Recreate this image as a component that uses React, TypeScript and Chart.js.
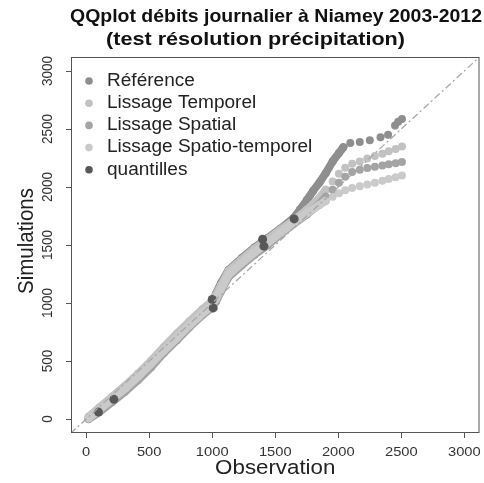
import React, { useEffect, useRef } from "react";
import { Chart, registerables } from "chart.js";

Chart.register(...registerables);

const TITLE_1 = "QQplot débits journalier à Niamey 2003-2012";
const TITLE_2 = "(test résolution précipitation)";
const X_TITLE = "Observation";
const Y_TITLE = "Simulations";
const X_TICKS = [0, 500, 1000, 1500, 2000, 2500, 3000];
const Y_TICKS = [0, 500, 1000, 1500, 2000, 2500, 3000];

const LEGEND_LABELS = ["Référence", "Lissage Temporel", "Lissage Spatial", "Lissage Spatio-temporel", "quantilles"];

// Reference simulation quantiles
const REF_X = [20, 105, 205, 310, 410, 515, 615, 720, 820, 925, 985, 1030, 1070, 1130, 1235, 1335, 1440, 1540, 1645, 1695, 1750, 1800, 1850, 1900, 1955, 2005, 2040, 2095, 2170, 2250, 2335, 2395, 2450, 2475, 2505];
const REF_Y = [5, 75, 160, 255, 355, 470, 595, 705, 812, 920, 975, 1080, 1173, 1285, 1387, 1478, 1560, 1640, 1732, 1803, 1885, 1966, 2037, 2119, 2220, 2292, 2342, 2378, 2388, 2403, 2429, 2449, 2530, 2561, 2586];

// Observation quantiles for smoothed runs
const LIS_X = [20, 105, 205, 310, 410, 515, 615, 720, 820, 925, 985, 1030, 1070, 1130, 1235, 1335, 1440, 1540, 1645, 1750, 1850, 1900, 1955, 2005, 2055, 2110, 2170, 2230, 2290, 2350, 2400, 2455, 2505];
const TEMP_Y = [19, 100, 191, 288, 390, 502, 619, 736, 842, 949, 1000, 1066, 1153, 1275, 1376, 1468, 1549, 1631, 1712, 1803, 1905, 1976, 2048, 2114, 2165, 2200, 2220, 2246, 2266, 2287, 2307, 2327, 2348];
const SPAT_Y = [0, 59, 146, 237, 334, 446, 568, 680, 792, 898, 949, 1010, 1102, 1224, 1325, 1417, 1498, 1590, 1681, 1763, 1854, 1915, 1976, 2037, 2088, 2129, 2149, 2164, 2175, 2185, 2195, 2205, 2215];
const ST_Y = [8, 80, 171, 263, 364, 476, 588, 700, 809, 914, 964, 1036, 1122, 1244, 1346, 1437, 1519, 1605, 1692, 1773, 1844, 1880, 1915, 1946, 1971, 1992, 2007, 2022, 2037, 2053, 2068, 2083, 2098];

// Quantile markers
const Q_X = [98, 220, 1000, 1008, 1400, 1410, 1650];
const Q_Y = [60, 170, 1030, 958, 1550, 1490, 1725];

const DIAG = [-300, 3300];

const COLORS = ["#8e8e8e", "#c2c2c2", "#a4a4a4", "#cacaca", "#585858"];
const FONT = '"Liberation Sans", Arial, Helvetica, sans-serif';
const SX = 1.088; // horizontal stretch of the original picture

function pts(xs: number[], ys: number[]) {
  return xs.map((x, i) => ({ x, y: ys[i] }));
}

function seriesDataset(label: string, xs: number[], ys: number[], color: string, tailStart: number, order: number) {
  return {
    label,
    data: pts(xs, ys),
    showLine: true,
    borderColor: color,
    backgroundColor: color,
    borderWidth: 8,
    borderCapStyle: "round",
    borderJoinStyle: "round",
    pointRadius: 4,
    pointBorderWidth: 0,
    pointBackgroundColor: color,
    order,
    segment: {
      borderColor: (ctx: any) => (ctx.p0.parsed.x >= tailStart ? "rgba(0,0,0,0)" : color),
    },
  };
}

function stretchText(ctx: CanvasRenderingContext2D, text: string, x: number, y: number, sx: number) {
  ctx.save();
  ctx.translate(x, y);
  ctx.scale(sx, 1);
  ctx.fillText(text, 0, 0);
  ctx.restore();
}

function fitText(ctx: CanvasRenderingContext2D, text: string, x0: number, x1: number, y: number) {
  const w = ctx.measureText(text).width;
  const sx = (x1 - x0) / w;
  ctx.save();
  ctx.translate((x0 + x1) / 2, y);
  ctx.scale(sx, 1);
  ctx.textAlign = "center";
  ctx.fillText(text, 0, 0);
  ctx.restore();
}

const decorPlugin = {
  id: "decor",
  afterDraw(chart: any) {
    const ctx: CanvasRenderingContext2D = chart.ctx;
    const { left, right, top, bottom } = chart.chartArea;
    const xs = chart.scales.x;
    const ys = chart.scales.y;
    ctx.save();
    // box
    ctx.strokeStyle = "#555";
    ctx.lineWidth = 1;
    ctx.strokeRect(left + 0.5, top + 0.5, right - left - 1, bottom - top - 1);
    // ticks
    ctx.beginPath();
    X_TICKS.forEach((v) => {
      const px = Math.round(xs.getPixelForValue(v)) + 0.5;
      ctx.moveTo(px, bottom);
      ctx.lineTo(px, bottom + 5);
    });
    Y_TICKS.forEach((v) => {
      const py = Math.round(ys.getPixelForValue(v)) + 0.5;
      ctx.moveTo(left, py);
      ctx.lineTo(left - 5, py);
    });
    ctx.stroke();
    // tick labels
    ctx.fillStyle = "#333";
    ctx.font = `13.5px ${FONT}`;
    ctx.textAlign = "center";
    ctx.textBaseline = "middle";
    X_TICKS.forEach((v) => {
      stretchText(ctx, String(v), xs.getPixelForValue(v), 452, SX);
    });
    Y_TICKS.forEach((v) => {
      ctx.save();
      ctx.translate(48, ys.getPixelForValue(v));
      ctx.rotate(-Math.PI / 2);
      ctx.scale(1, SX);
      ctx.fillText(String(v), 0, 0);
      ctx.restore();
    });
    // axis titles
    ctx.fillStyle = "#222";
    ctx.font = `20.5px ${FONT}`;
    stretchText(ctx, X_TITLE, (left + right) / 2, 468, SX);
    ctx.save();
    ctx.translate(27, (top + bottom) / 2 - 4);
    ctx.rotate(-Math.PI / 2);
    ctx.scale(1, SX);
    ctx.fillText(Y_TITLE, 0, 0);
    ctx.restore();
    // title
    ctx.fillStyle = "#111";
    ctx.font = `bold 18.5px ${FONT}`;
    fitText(ctx, TITLE_1, 70, 482, 17);
    fitText(ctx, TITLE_2, 106, 405, 40);
    // legend
    ctx.textAlign = "left";
    ctx.font = `17.5px ${FONT}`;
    LEGEND_LABELS.forEach((lab, i) => {
      const y = 81 + i * 22.2;
      ctx.fillStyle = COLORS[i];
      ctx.beginPath();
      ctx.arc(89, y, 3.8, 0, Math.PI * 2);
      ctx.fill();
      ctx.fillStyle = "#222";
      stretchText(ctx, lab, 107, y, SX);
    });
    ctx.restore();
  },
};

export default function App() {
  const ref = useRef<HTMLCanvasElement | null>(null);
  useEffect(() => {
    document.body.style.margin = "0";
    const canvas = ref.current!;
    const chart = new Chart(canvas, {
      type: "scatter",
      data: {
        datasets: [
          {
            label: "diag",
            data: pts(DIAG, DIAG),
            showLine: true,
            borderColor: "#a8a8a8",
            borderWidth: 1.3,
            borderDash: [7, 3, 2, 3],
            pointRadius: 0,
            order: 0,
          } as any,
          {
            label: LEGEND_LABELS[4],
            data: pts(Q_X, Q_Y),
            showLine: false,
            pointRadius: 4.5,
            pointBorderWidth: 0,
            pointBackgroundColor: COLORS[4],
            backgroundColor: COLORS[4],
            order: 1,
          } as any,
          seriesDataset(LEGEND_LABELS[3], LIS_X, ST_Y, COLORS[3], 1900, 2) as any,
          seriesDataset(LEGEND_LABELS[2], LIS_X, SPAT_Y, COLORS[2], 1900, 3) as any,
          seriesDataset(LEGEND_LABELS[1], LIS_X, TEMP_Y, COLORS[1], 1900, 4) as any,
          seriesDataset(LEGEND_LABELS[0], REF_X, REF_Y, COLORS[0], 2040, 5) as any,
        ],
      },
      options: {
        responsive: false,
        animation: false,
        devicePixelRatio: 1,
        layout: { padding: { left: 71, right: 4, top: 57, bottom: 50 } },
        scales: {
          x: { type: "linear", display: false, min: -120, max: 3120 },
          y: { type: "linear", display: false, min: -120, max: 3120 },
        },
        plugins: {
          legend: { display: false },
          tooltip: { enabled: false },
          title: { display: false },
        },
      },
      plugins: [decorPlugin],
    });
    return () => chart.destroy();
  }, []);
  return <canvas ref={ref} width={484} height={483} style={{ display: "block" }} />;
}
